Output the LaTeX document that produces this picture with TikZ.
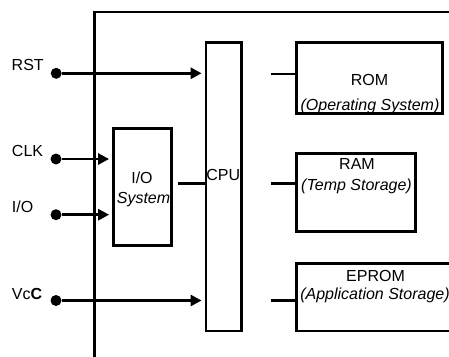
\documentclass[tikz,border=0pt]{standalone}
\usepackage{fontspec}
\setmainfont{Liberation Sans}
\usetikzlibrary{arrows.meta, positioning}

\begin{document}
\begin{tikzpicture}[
  x=1pt, y=-1pt,
  block/.style={draw, line width=2.8pt, inner sep=0pt},
  contact/.style={circle, fill, inner sep=0pt, minimum size=11pt},
  wire/.style={line width=2.8pt},
  feed/.style={wire, -{Triangle[length=11pt, width=11pt]}, shorten >=3pt},
  txt/.style={inner sep=0pt, anchor=base},
  sub/.style={txt, font=\fontsize{16}{19}\selectfont\itshape},
  every node/.style={font=\fontsize{16}{19}\selectfont}
]
  \useasboundingbox (0,0) rectangle (449,356);

  % Card outline (left and top edge only)
  \coordinate (framebot) at (94.7,360);
  \coordinate (framecorner) at (94.7,12);
  \coordinate (frameend) at (452,12);
  \draw[wire] (framebot) -- (framecorner) -- (frameend);

  % Blocks
  \node[block, minimum width=35.5pt, minimum height=288.5pt] (cpu) at (223.75,186.75) {};
  \node[block, minimum width=58pt, minimum height=117pt] (iosys) at (142.5,187) {};
  \node[block, minimum width=146pt, minimum height=71pt] (rom) at (369.5,78) {};
  \node[block, minimum width=119pt, minimum height=78pt] (ram) at (356,192.5) {};
  \node[block, minimum width=161pt, minimum height=67.3pt] (eprom) at (376.75,297.35) {};

  % Block texts
  \node[txt] (cpulbl) at (223.3,180) {CPU};
  \node[txt] (iolbl) at (142,183.3) {I/O};
  \node[sub] (syslbl) at (143.5,203.3) {System};
  \node[txt] (romlbl) at (369.5,85) {ROM};
  \node[sub] (romsub) at (370,110) {(Operating System)};
  \node[txt] (ramlbl) at (357,169.3) {RAM};
  \node[sub] (ramsub) at (356.5,190.3) {(Temp Storage)};
  \node[txt] (epromlbl) at (375.5,281.3) {EPROM};
  \node[sub] (epromsub) at (375,299.7) {(Application Storage)};

  % Contacts
  \node[contact] (rstpin) at (56.2,73.3) {};
  \node[contact] (clkpin) at (56,159) {};
  \node[contact] (iopin) at (56,214.7) {};
  \node[contact] (vccpin) at (56,300.5) {};
  \node[txt, anchor=base west] (rstlbl) at (11.5,70.7) {RST};
  \node[txt, anchor=base west] (clklbl) at (11.8,156.7) {CLK};
  \node[txt, anchor=base west] (iolbl2) at (11.8,212) {I/O};
  \node[txt, anchor=base west] (vcclbl) at (11.8,299.7) {Vc\textbf{C}};

  % Inputs
  \draw[feed] (rstpin) -- (cpu.west |- rstpin);
  \draw[feed] (clkpin) -- (iosys.west |- clkpin);
  \draw[feed] (iopin) -- (iosys.west |- iopin);
  \draw[feed] (vccpin) -- (cpu.west |- vccpin);

  % Bus stubs
  \coordinate (iostub) at (178.3,183.5);
  \coordinate (romstub) at (270.7,74);
  \coordinate (ramstub) at (270.7,183.5);
  \coordinate (epromstub) at (270.7,300.7);
  \draw[wire] (iostub) -- (cpu.west |- iostub);
  \draw[wire] (romstub) -- (rom.west |- romstub);
  \draw[wire] (ramstub) -- (ram.west |- ramstub);
  \draw[wire] (epromstub) -- (eprom.west |- epromstub);

\end{tikzpicture}
\end{document}
